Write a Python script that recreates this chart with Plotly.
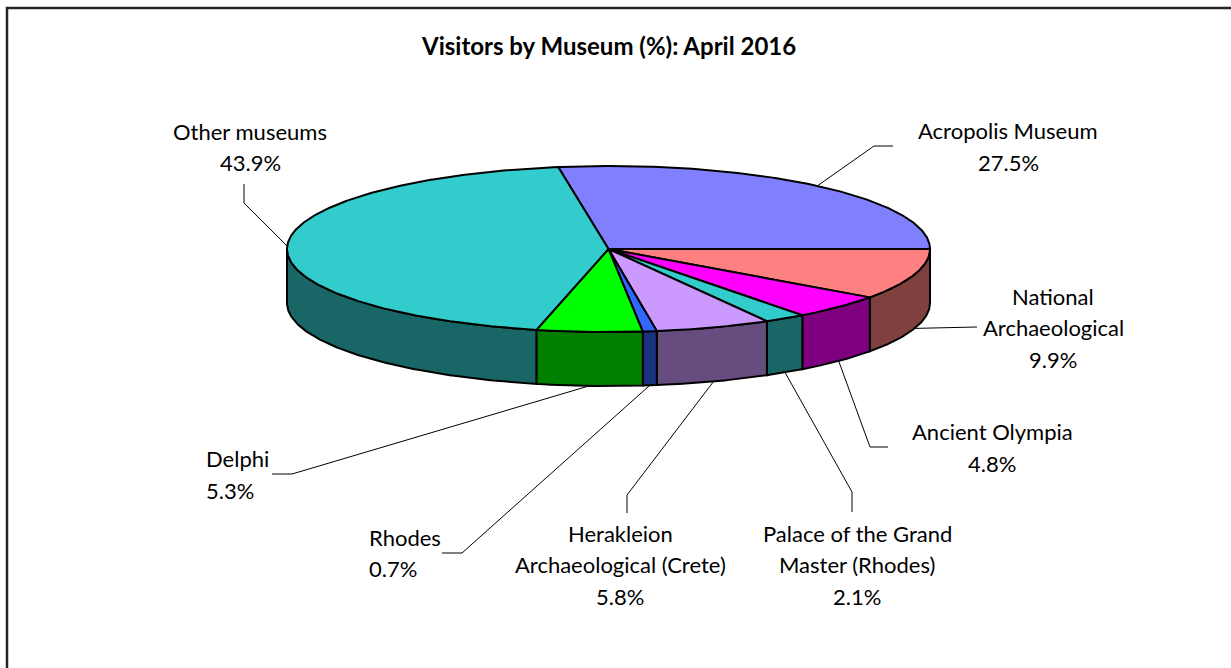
import numpy as np
import plotly.graph_objects as go

# ---------------- data ----------------
museums = ["Acropolis Museum", "National<br>Archaeological", "Ancient Olympia",
           "Palace of the Grand<br>Master (Rhodes)", "Herakleion<br>Archaeological (Crete)",
           "Rhodes", "Delphi", "Other museums"]
share = [27.5, 9.9, 4.8, 2.1, 5.8, 0.7, 5.3, 43.9]
top_colors = ["#8080FF", "#FF8080", "#FF00FF", "#33CCCC", "#CC99FF", "#3366FF", "#00FF00", "#33CCCC"]
title_text = "Visitors by Museum (%): April 2016"

# ---------------- geometry / layout (pixels) ----------------
W, H = 1231, 668
CX, CY, RX, RY, DEPTH = 608.5, 249.0, 321.5, 83.0, 54.0
START_DEG = 99.0  # first slice starts here, slices go clockwise
LINE_GAP = 31.5

# label placement: (x, y of block centre, xanchor, elbow points)
label_layout = [
    (1008, 146.5, "center", [(874, 146), (893, 146)]),
    (1053, 327.5, "center", [(977, 327)]),
    (992, 447.5, "center", [(870, 447), (888, 447)]),
    (857, 564.5, "center", [(852, 492), (852, 512)]),
    (620, 564.5, "center", [(627, 495), (627, 513)]),
    (367, 553, "left", [(462, 553), (442, 553)]),
    (204, 474.5, "left", [(292, 474), (272, 474)]),
    (250, 147, "center", [(244, 203), (244, 184)]),
]


def darken(hexcol, f=0.5):
    h = hexcol.lstrip("#")
    r, g, b = (int(h[i:i + 2], 16) for i in (0, 2, 4))
    return "rgb(%d,%d,%d)" % (r * f, g * f, b * f)


def pt(deg, dy=0.0):
    t = np.radians(deg)
    return CX + RX * np.cos(t), CY - RY * np.sin(t) + dy


total = float(sum(share))
bounds = [START_DEG]
for v in share:
    bounds.append(bounds[-1] - v / total * 360.0)

fig = go.Figure()

# ---- side faces (front half only) ----
for i, v in enumerate(share):
    a0, a1 = bounds[i + 1], bounds[i]
    for shift in (-360, 0, 360):
        lo, hi = max(a0 + shift, -180.0), min(a1 + shift, 0.0)
        if hi - lo > 1e-6:
            ts = np.linspace(lo, hi, max(int((hi - lo) * 2), 4))
            xs_top, ys_top = pt(ts)
            xs_bot, ys_bot = pt(ts[::-1], DEPTH)
            xs = np.concatenate([xs_top, xs_bot, xs_top[:1]])
            ys = np.concatenate([ys_top, ys_bot, ys_top[:1]])
            fig.add_trace(go.Scatter(
                x=xs, y=ys, mode="lines", fill="toself",
                fillcolor=darken(top_colors[i]),
                line=dict(color="black", width=2),
                hoverinfo="skip", showlegend=False))

# ---- top faces ----
for i, v in enumerate(share):
    a1, a0 = bounds[i], bounds[i + 1]
    ts = np.linspace(a1, a0, max(int(abs(a1 - a0) * 2), 4))
    xs, ys = pt(ts)
    xs = np.concatenate([[CX], xs, [CX]])
    ys = np.concatenate([[CY], ys, [CY]])
    fig.add_trace(go.Scatter(
        x=xs, y=ys, mode="lines", fill="toself",
        fillcolor=top_colors[i],
        line=dict(color="black", width=2),
        hoverinfo="skip", showlegend=False))

# ---- labels with leader lines ----
for i, v in enumerate(share):
    mid = (bounds[i] + bounds[i + 1]) / 2.0
    front = np.sin(np.radians(mid)) < 0
    sx, sy = pt(mid, DEPTH if front else 0.0)
    lx, ly, anchor, elbows = label_layout[i]
    px = [sx] + [e[0] for e in elbows]
    py = [sy] + [e[1] for e in elbows]
    fig.add_trace(go.Scatter(x=px, y=py, mode="lines",
                             line=dict(color="black", width=1),
                             hoverinfo="skip", showlegend=False))
    lines = museums[i].split("<br>") + ["%.1f%%" % v]
    n = len(lines)
    for k, txt in enumerate(lines):
        fig.add_annotation(x=lx, y=ly + (k - (n - 1) / 2.0) * LINE_GAP, xref="x", yref="y",
                           text=txt, showarrow=False, xanchor=anchor, yanchor="middle",
                           font=dict(family="Lato", size=22, color="black"))

fig.add_annotation(x=608, y=45, xref="x", yref="y", text="<b>%s</b>" % title_text,
                   showarrow=False, xanchor="center", yanchor="middle",
                   font=dict(family="Lato", size=24, color="black"))

# chart frame
fig.add_shape(type="rect", x0=7, y0=8, x1=W + 20, y1=H + 20, xref="x", yref="y",
              line=dict(color="#262626", width=2.5), layer="above")

fig.update_layout(
    width=W, height=H,
    margin=dict(l=0, r=0, t=0, b=0),
    paper_bgcolor="white", plot_bgcolor="white",
    xaxis=dict(range=[0, W], visible=False, fixedrange=True),
    yaxis=dict(range=[H, 0], visible=False, fixedrange=True),
    showlegend=False,
)

fig.write_html("out.html", config={"displayModeBar": False},
               post_script="document.body.style.margin='0';document.body.style.overflow='hidden';")
